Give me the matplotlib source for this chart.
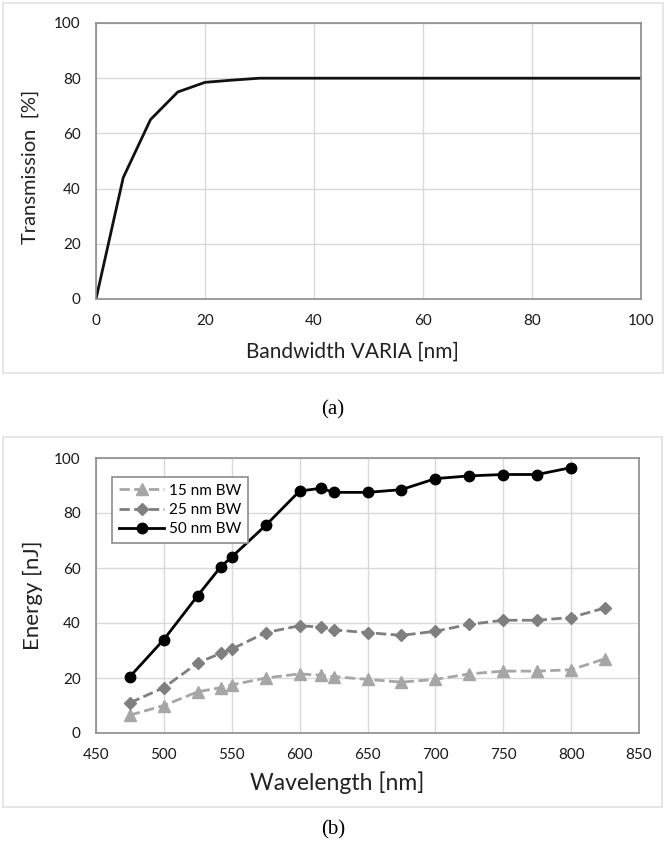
import matplotlib.pyplot as plt
from matplotlib.patches import Rectangle

plt.rcParams['font.family'] = ['Lato', 'DejaVu Sans']

# (a) transmission vs bandwidth
bw = [0, 5, 10, 15, 20, 25, 30, 40, 50, 60, 70, 80, 90, 100]
trans = [0, 44, 65, 75, 78.5, 79.3, 80, 80, 80, 80, 80, 80, 80, 80]

# (b) energy vs wavelength
wl = [475, 500, 525, 542, 550, 575, 600, 616, 625, 650, 675, 700, 725, 750, 775, 800, 825]
e15 = [6.5, 10, 15, 16.5, 17.5, 20, 21.5, 21, 20.5, 19.5, 18.5, 19.5, 21.5, 22.5, 22.5, 23, 27]
e25 = [11, 16.5, 25.5, 29, 30.5, 36.5, 39, 38.5, 37.5, 36.5, 35.5, 37, 39.5, 41, 41, 42, 45.5]
e50 = [20.5, 34, 50, 60.5, 64, 75.5, 88, 89, 87.5, 87.5, 88.5, 92.5, 93.5, 94, 94, 96.5]

W, H = 666, 851
fig = plt.figure(figsize=(W / 100, H / 100), dpi=100)


def box(x0, y0, x1, y1):
    # pixel coords (top-left origin) -> figure fraction
    return [x0 / W, 1 - y1 / H, (x1 - x0) / W, (y1 - y0) / H]


def style(ax):
    ax.grid(True, color='#d9d9d9', linewidth=1)
    ax.set_axisbelow(True)
    for s in ax.spines.values():
        s.set_color('#8c8c8c')
        s.set_linewidth(1.2)
    ax.tick_params(length=0, labelsize=11, colors='#1a1a1a')
    ax.tick_params(axis='y', pad=11)
    ax.tick_params(axis='x', pad=11)


def place_labels(ax, xl, yl):
    ax.xaxis.label.set_va('center')
    ax.yaxis.label.set_va('center')
    ax.xaxis.set_label_coords(*xl)
    ax.yaxis.set_label_coords(*yl)


# outer frames
for f in [box(3, 3, 663, 373), box(3, 437, 662, 807)]:
    fig.patches.append(Rectangle((f[0], f[1]), f[2], f[3], transform=fig.transFigure,
                                 fill=False, edgecolor='#e2e2e2', linewidth=1.2))

ax1 = fig.add_axes(box(96, 23, 641, 299))
ax1.plot(bw, trans, color='#111111', linewidth=2)
ax1.set_xlim(0, 100)
ax1.set_ylim(0, 100)
ax1.set_xticks(range(0, 101, 20))
ax1.set_yticks(range(0, 101, 20))
style(ax1)
ax1.set_xlabel('Bandwidth VARIA [nm]', fontsize=15, color='#222222')
ax1.set_ylabel('Transmission  [%]', fontsize=14.5, color='#222222')
place_labels(ax1, (0.47, -0.192), (-0.121, 0.478))

ax2 = fig.add_axes(box(96, 458, 639, 733))
ax2.plot(wl, e15, color='#a6a6a6', linestyle='--', linewidth=2, marker='^',
         markersize=9, label='15 nm BW')
ax2.plot(wl, e25, color='#7f7f7f', linestyle='--', linewidth=2, marker='D',
         markersize=6.5, label='25 nm BW')
ax2.plot(wl[:len(e50)], e50, color='#000000', linestyle='-', linewidth=2, marker='o',
         markersize=7.5, label='50 nm BW')
ax2.set_xlim(450, 850)
ax2.set_ylim(0, 100)
ax2.set_xticks(range(450, 851, 50))
ax2.set_yticks(range(0, 101, 20))
style(ax2)
ax2.set_xlabel('Wavelength [nm]', fontsize=16.5, color='#222222')
ax2.set_ylabel('Energy [nJ]', fontsize=16, color='#222222')
place_labels(ax2, (0.444, -0.182), (-0.116, 0.5))
leg = ax2.legend(loc='upper left', bbox_to_anchor=(0.015, 0.96), fontsize=11,
                 frameon=True, fancybox=False, edgecolor='#8c8c8c', framealpha=1,
                 handlelength=3.0, handletextpad=0.3, borderpad=0.45, labelspacing=0.35)
leg.get_frame().set_linewidth(1.2)

fig.text(333 / W, 1 - 410 / H, '(a)', ha='center', va='center', fontsize=15,
         family='Liberation Serif')
fig.text(333 / W, 1 - 830 / H, '(b)', ha='center', va='center', fontsize=15,
         family='Liberation Serif')

plt.savefig('out.png', dpi=100)
